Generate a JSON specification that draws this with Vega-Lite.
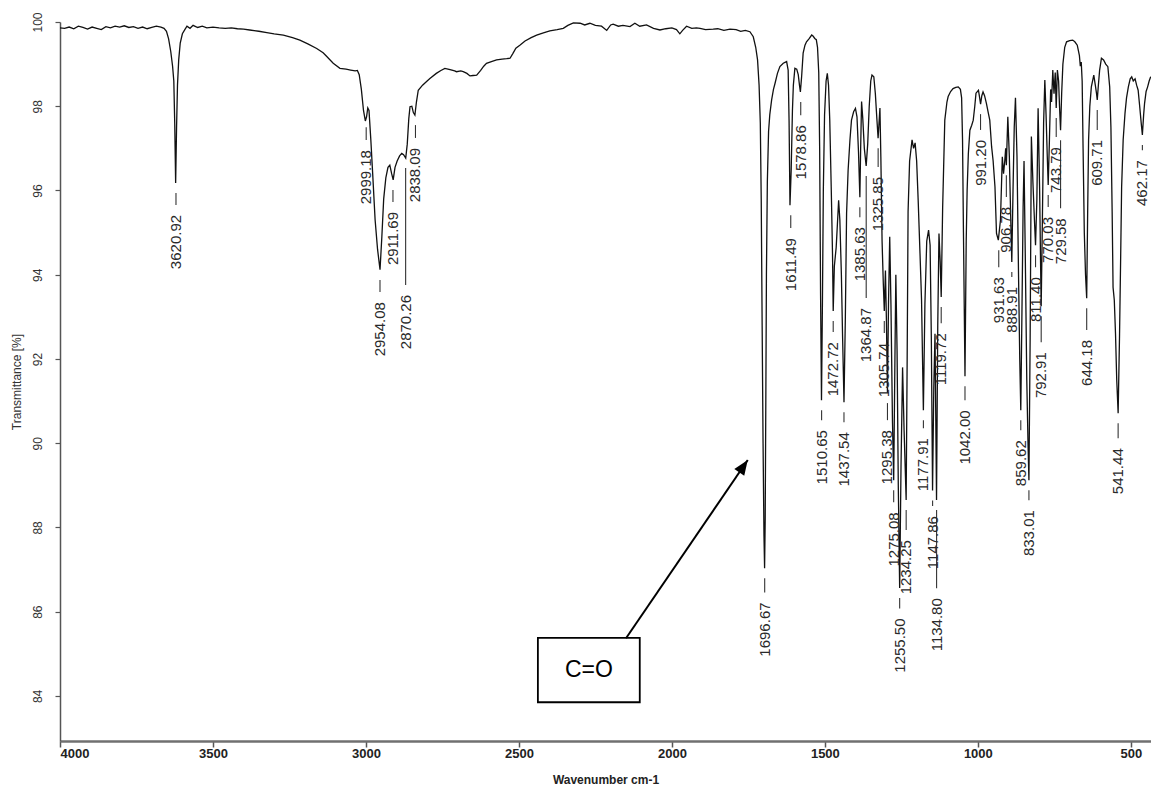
{
  "$schema": "https://vega.github.io/schema/vega-lite/v6.json",
  "width": 1091,
  "height": 719,
  "autosize": {"type": "none"},
  "padding": {"left": 60, "top": 22, "right": 0, "bottom": 48},
  "background": "white",
  "config": {"view": {"stroke": null}, "font": "Liberation Sans"},
  "datasets": {
    "spec": [
      {"wn":4000,"t":99.86},{"wn":3985,"t":99.85},{"wn":3970,"t":99.88},{"wn":3955,"t":99.84},{"wn":3940,"t":99.9},{"wn":3925,"t":99.87},{"wn":3910,"t":99.83},{"wn":3895,"t":99.88},{"wn":3880,"t":99.85},{"wn":3865,"t":99.82},{"wn":3850,"t":99.89},{"wn":3835,"t":99.86},{"wn":3820,"t":99.9},{"wn":3805,"t":99.88},{"wn":3790,"t":99.91},{"wn":3775,"t":99.87},{"wn":3760,"t":99.89},{"wn":3745,"t":99.85},{"wn":3730,"t":99.88},{"wn":3715,"t":99.84},{"wn":3700,"t":99.87},{"wn":3685,"t":99.9},{"wn":3670,"t":99.88},{"wn":3660,"t":99.85},{"wn":3652,"t":99.78},{"wn":3645,"t":99.6},{"wn":3638,"t":99.3},{"wn":3632,"t":98.95},{"wn":3628,"t":98.6},{"wn":3625,"t":97.6},{"wn":3622,"t":96.18},{"wn":3619,"t":97.5},{"wn":3616,"t":98.5},{"wn":3612,"t":99.1},{"wn":3607,"t":99.5},{"wn":3600,"t":99.72},{"wn":3592,"t":99.82},{"wn":3585,"t":99.9},{"wn":3575,"t":99.85},{"wn":3565,"t":99.92},{"wn":3550,"t":99.87},{"wn":3535,"t":99.9},{"wn":3520,"t":99.86},{"wn":3500,"t":99.88},{"wn":3480,"t":99.86},{"wn":3460,"t":99.85},{"wn":3440,"t":99.86},{"wn":3420,"t":99.84},{"wn":3400,"t":99.83},{"wn":3380,"t":99.81},{"wn":3350,"t":99.78},{"wn":3324,"t":99.75},{"wn":3300,"t":99.72},{"wn":3270,"t":99.69},{"wn":3240,"t":99.63},{"wn":3216,"t":99.57},{"wn":3190,"t":99.48},{"wn":3161,"t":99.37},{"wn":3140,"t":99.27},{"wn":3128,"t":99.18},{"wn":3107,"t":99.02},{"wn":3085,"t":98.9},{"wn":3065,"t":98.88},{"wn":3050,"t":98.86},{"wn":3035,"t":98.84},{"wn":3028,"t":98.85},{"wn":3022,"t":98.75},{"wn":3015,"t":98.4},{"wn":3008,"t":97.9},{"wn":3002,"t":97.65},{"wn":2998,"t":97.75},{"wn":2994,"t":97.96},{"wn":2990,"t":97.9},{"wn":2984,"t":97.2},{"wn":2978,"t":96.4},{"wn":2970,"t":95.3},{"wn":2962,"t":94.6},{"wn":2954,"t":94.12},{"wn":2948,"t":94.9},{"wn":2942,"t":95.8},{"wn":2935,"t":96.3},{"wn":2928,"t":96.55},{"wn":2922,"t":96.6},{"wn":2916,"t":96.4},{"wn":2911,"t":96.25},{"wn":2905,"t":96.55},{"wn":2898,"t":96.7},{"wn":2890,"t":96.82},{"wn":2883,"t":96.88},{"wn":2877,"t":96.85},{"wn":2870,"t":96.77},{"wn":2865,"t":97.1},{"wn":2860,"t":97.7},{"wn":2856,"t":97.99},{"wn":2850,"t":98.0},{"wn":2845,"t":97.85},{"wn":2840,"t":97.79},{"wn":2835,"t":98.1},{"wn":2829,"t":98.38},{"wn":2815,"t":98.5},{"wn":2800,"t":98.6},{"wn":2791,"t":98.66},{"wn":2770,"t":98.78},{"wn":2755,"t":98.85},{"wn":2742,"t":98.9},{"wn":2725,"t":98.87},{"wn":2710,"t":98.84},{"wn":2704,"t":98.82},{"wn":2690,"t":98.84},{"wn":2682,"t":98.82},{"wn":2670,"t":98.78},{"wn":2660,"t":98.72},{"wn":2650,"t":98.73},{"wn":2638,"t":98.74},{"wn":2625,"t":98.85},{"wn":2615,"t":98.95},{"wn":2606,"t":99.02},{"wn":2590,"t":99.06},{"wn":2573,"t":99.1},{"wn":2555,"t":99.12},{"wn":2540,"t":99.13},{"wn":2529,"t":99.14},{"wn":2520,"t":99.25},{"wn":2510,"t":99.38},{"wn":2497,"t":99.45},{"wn":2480,"t":99.55},{"wn":2460,"t":99.63},{"wn":2442,"t":99.69},{"wn":2420,"t":99.74},{"wn":2399,"t":99.79},{"wn":2375,"t":99.82},{"wn":2355,"t":99.85},{"wn":2340,"t":99.92},{"wn":2322,"t":99.98},{"wn":2300,"t":99.97},{"wn":2285,"t":99.93},{"wn":2268,"t":99.97},{"wn":2250,"t":99.92},{"wn":2230,"t":99.9},{"wn":2213,"t":99.8},{"wn":2200,"t":99.93},{"wn":2192,"t":99.95},{"wn":2175,"t":99.9},{"wn":2160,"t":99.92},{"wn":2137,"t":99.89},{"wn":2121,"t":99.97},{"wn":2105,"t":99.9},{"wn":2083,"t":99.93},{"wn":2060,"t":99.85},{"wn":2039,"t":99.81},{"wn":2020,"t":99.84},{"wn":2000,"t":99.86},{"wn":1985,"t":99.82},{"wn":1974,"t":99.72},{"wn":1965,"t":99.8},{"wn":1952,"t":99.9},{"wn":1935,"t":99.85},{"wn":1920,"t":99.86},{"wn":1908,"t":99.85},{"wn":1890,"t":99.82},{"wn":1865,"t":99.83},{"wn":1850,"t":99.84},{"wn":1830,"t":99.8},{"wn":1810,"t":99.83},{"wn":1790,"t":99.82},{"wn":1775,"t":99.78},{"wn":1760,"t":99.8},{"wn":1745,"t":99.77},{"wn":1734,"t":99.65},{"wn":1726,"t":99.4},{"wn":1720,"t":99.1},{"wn":1715,"t":98.5},{"wn":1711,"t":97.6},{"wn":1708,"t":95.8},{"wn":1705,"t":92.8},{"wn":1702,"t":90.0},{"wn":1699,"t":87.8},{"wn":1697,"t":87.03},{"wn":1695,"t":88.2},{"wn":1693,"t":91.0},{"wn":1691,"t":94.0},{"wn":1688,"t":96.2},{"wn":1684,"t":97.4},{"wn":1680,"t":97.8},{"wn":1674,"t":98.15},{"wn":1668,"t":98.4},{"wn":1663,"t":98.54},{"wn":1655,"t":98.78},{"wn":1647,"t":98.94},{"wn":1636,"t":99.02},{"wn":1625,"t":99.06},{"wn":1620,"t":98.86},{"wn":1617,"t":97.67},{"wn":1614,"t":95.65},{"wn":1610,"t":96.5},{"wn":1606,"t":97.9},{"wn":1603,"t":98.5},{"wn":1598,"t":98.9},{"wn":1592,"t":98.88},{"wn":1587,"t":98.75},{"wn":1583,"t":98.5},{"wn":1580,"t":98.34},{"wn":1576,"t":98.7},{"wn":1571,"t":99.26},{"wn":1565,"t":99.45},{"wn":1560,"t":99.53},{"wn":1552,"t":99.6},{"wn":1543,"t":99.69},{"wn":1538,"t":99.66},{"wn":1533,"t":99.61},{"wn":1528,"t":99.58},{"wn":1524,"t":99.4},{"wn":1520,"t":98.8},{"wn":1517,"t":97.0},{"wn":1514,"t":93.5},{"wn":1511,"t":91.02},{"wn":1508,"t":93.3},{"wn":1505,"t":96.0},{"wn":1501,"t":97.8},{"wn":1496,"t":98.6},{"wn":1492,"t":98.78},{"wn":1488,"t":98.5},{"wn":1484,"t":97.67},{"wn":1479,"t":96.0},{"wn":1475,"t":94.5},{"wn":1472.7,"t":93.14},{"wn":1469,"t":94.2},{"wn":1463,"t":94.65},{"wn":1459,"t":95.2},{"wn":1455,"t":95.77},{"wn":1451,"t":95.3},{"wn":1446,"t":94.0},{"wn":1442,"t":92.5},{"wn":1437.5,"t":90.97},{"wn":1433,"t":93.0},{"wn":1429,"t":95.46},{"wn":1424,"t":96.48},{"wn":1418,"t":97.2},{"wn":1413,"t":97.67},{"wn":1406,"t":97.87},{"wn":1400,"t":97.95},{"wn":1395,"t":97.75},{"wn":1390,"t":96.9},{"wn":1385.6,"t":95.84},{"wn":1383,"t":97.0},{"wn":1380,"t":98.11},{"wn":1376,"t":97.7},{"wn":1371,"t":97.0},{"wn":1365,"t":96.58},{"wn":1360,"t":97.1},{"wn":1355,"t":98.0},{"wn":1350,"t":98.6},{"wn":1346,"t":98.74},{"wn":1340,"t":98.7},{"wn":1335,"t":98.3},{"wn":1330,"t":97.7},{"wn":1326,"t":97.24},{"wn":1323,"t":97.6},{"wn":1320,"t":97.96},{"wn":1317,"t":96.8},{"wn":1313,"t":94.8},{"wn":1309,"t":93.8},{"wn":1305.7,"t":93.14},{"wn":1302,"t":94.1},{"wn":1299,"t":93.0},{"wn":1295.4,"t":91.19},{"wn":1292,"t":93.3},{"wn":1288,"t":94.9},{"wn":1284,"t":93.3},{"wn":1279,"t":90.5},{"wn":1275,"t":89.12},{"wn":1271,"t":92.0},{"wn":1268,"t":94.0},{"wn":1264,"t":92.2},{"wn":1260,"t":89.0},{"wn":1255.5,"t":86.56},{"wn":1251,"t":89.5},{"wn":1246,"t":91.8},{"wn":1241,"t":90.3},{"wn":1234.3,"t":88.65},{"wn":1231,"t":92.0},{"wn":1228,"t":95.5},{"wn":1223,"t":96.7},{"wn":1215,"t":97.2},{"wn":1210,"t":97.0},{"wn":1205,"t":97.13},{"wn":1200,"t":96.7},{"wn":1195,"t":95.77},{"wn":1189,"t":94.5},{"wn":1184,"t":93.4},{"wn":1178,"t":90.78},{"wn":1173,"t":93.3},{"wn":1167,"t":94.8},{"wn":1161,"t":95.06},{"wn":1156,"t":94.7},{"wn":1152,"t":92.5},{"wn":1148,"t":88.88},{"wn":1144,"t":91.3},{"wn":1140,"t":92.6},{"wn":1135,"t":88.65},{"wn":1131,"t":92.8},{"wn":1127,"t":94.98},{"wn":1123,"t":94.3},{"wn":1119.7,"t":93.47},{"wn":1115,"t":95.6},{"wn":1108,"t":97.67},{"wn":1101,"t":98.1},{"wn":1097,"t":98.23},{"wn":1089,"t":98.35},{"wn":1081,"t":98.42},{"wn":1072,"t":98.45},{"wn":1064,"t":98.46},{"wn":1057,"t":98.4},{"wn":1053,"t":98.2},{"wn":1050,"t":97.2},{"wn":1047,"t":95.0},{"wn":1042,"t":91.59},{"wn":1038,"t":94.8},{"wn":1035,"t":96.0},{"wn":1031,"t":96.88},{"wn":1026,"t":97.43},{"wn":1020,"t":97.55},{"wn":1015,"t":97.67},{"wn":1010,"t":98.0},{"wn":1006,"t":98.31},{"wn":998,"t":98.38},{"wn":994,"t":98.2},{"wn":991,"t":98.05},{"wn":987,"t":98.25},{"wn":983,"t":98.34},{"wn":978,"t":98.25},{"wn":972,"t":98.07},{"wn":966,"t":97.85},{"wn":961,"t":97.67},{"wn":955,"t":97.04},{"wn":950,"t":96.7},{"wn":944,"t":96.09},{"wn":939,"t":94.98},{"wn":933,"t":94.82},{"wn":926,"t":95.3},{"wn":920,"t":96.8},{"wn":916,"t":96.4},{"wn":912,"t":96.7},{"wn":909,"t":97.0},{"wn":906.8,"t":96.6},{"wn":902,"t":97.75},{"wn":897,"t":96.8},{"wn":893,"t":95.5},{"wn":889,"t":94.3},{"wn":885,"t":96.0},{"wn":881,"t":97.5},{"wn":877,"t":98.2},{"wn":872,"t":96.8},{"wn":867,"t":94.0},{"wn":863,"t":92.0},{"wn":859.6,"t":90.78},{"wn":856,"t":93.0},{"wn":852,"t":95.6},{"wn":849,"t":96.7},{"wn":845,"t":94.5},{"wn":840,"t":91.5},{"wn":836,"t":90.0},{"wn":833,"t":89.12},{"wn":829,"t":92.5},{"wn":825,"t":97.28},{"wn":820,"t":96.2},{"wn":815,"t":95.3},{"wn":811.4,"t":94.7},{"wn":807,"t":95.8},{"wn":803,"t":97.95},{"wn":798,"t":96.0},{"wn":795,"t":94.3},{"wn":792.9,"t":93.25},{"wn":789,"t":95.3},{"wn":785,"t":97.6},{"wn":781,"t":98.62},{"wn":777,"t":97.8},{"wn":773,"t":96.8},{"wn":770,"t":96.13},{"wn":766,"t":97.2},{"wn":762,"t":98.4},{"wn":759,"t":98.1},{"wn":755,"t":98.86},{"wn":751,"t":98.3},{"wn":747,"t":98.8},{"wn":743.8,"t":97.96},{"wn":740,"t":98.86},{"wn":736,"t":98.6},{"wn":733,"t":98.0},{"wn":729.6,"t":97.43},{"wn":726,"t":98.3},{"wn":722,"t":99.0},{"wn":716,"t":99.4},{"wn":710,"t":99.53},{"wn":700,"t":99.56},{"wn":690,"t":99.57},{"wn":683,"t":99.53},{"wn":675,"t":99.45},{"wn":668,"t":99.2},{"wn":665,"t":98.95},{"wn":662,"t":99.05},{"wn":659,"t":98.6},{"wn":656,"t":97.0},{"wn":652,"t":95.0},{"wn":648,"t":94.0},{"wn":644.2,"t":93.44},{"wn":641,"t":95.5},{"wn":638,"t":97.2},{"wn":634,"t":98.0},{"wn":629,"t":98.46},{"wn":621,"t":98.74},{"wn":616,"t":98.5},{"wn":612,"t":98.3},{"wn":609.7,"t":98.15},{"wn":606,"t":98.5},{"wn":602,"t":98.85},{"wn":596,"t":99.14},{"wn":589,"t":99.1},{"wn":582,"t":99.0},{"wn":575,"t":98.94},{"wn":569,"t":98.46},{"wn":565,"t":97.5},{"wn":561,"t":95.5},{"wn":558,"t":93.7},{"wn":554,"t":93.4},{"wn":550,"t":92.6},{"wn":546,"t":91.5},{"wn":541.4,"t":90.71},{"wn":537,"t":92.5},{"wn":533,"t":94.5},{"wn":530,"t":96.09},{"wn":525,"t":97.2},{"wn":519,"t":97.83},{"wn":514,"t":98.2},{"wn":508,"t":98.46},{"wn":502,"t":98.65},{"wn":497,"t":98.7},{"wn":492,"t":98.6},{"wn":486,"t":98.65},{"wn":481,"t":98.5},{"wn":476,"t":98.38},{"wn":471,"t":98.0},{"wn":466,"t":97.6},{"wn":462.2,"t":97.32},{"wn":458,"t":97.8},{"wn":455,"t":98.07},{"wn":450,"t":98.35},{"wn":445,"t":98.46},{"wn":440,"t":98.6},{"wn":435,"t":98.7}
    ],
    "peaks": [
      {"wn":3620.92,"label":"3620.92","tip":96.18,"lab":95.42},
      {"wn":2999.18,"label":"2999.18","tip":97.74,"lab":96.96},
      {"wn":2954.08,"label":"2954.08","tip":94.11,"lab":93.35},
      {"wn":2911.69,"label":"2911.69","tip":96.25,"lab":95.49},
      {"wn":2870.26,"label":"2870.26","tip":96.77,"lab":93.52},
      {"wn":2838.09,"label":"2838.09","tip":97.79,"lab":97.01},
      {"wn":1696.67,"label":"1696.67","tip":87.03,"lab":86.22},
      {"wn":1611.49,"label":"1611.49","tip":95.65,"lab":94.87},
      {"wn":1578.86,"label":"1578.86","tip":98.34,"lab":97.55},
      {"wn":1510.65,"label":"1510.65","tip":91.02,"lab":90.31},
      {"wn":1472.72,"label":"1472.72","tip":93.14,"lab":92.4},
      {"wn":1437.54,"label":"1437.54","tip":90.97,"lab":90.26},
      {"wn":1385.63,"label":"1385.63","tip":95.84,"lab":95.13},
      {"wn":1364.87,"label":"1364.87","tip":96.58,"lab":93.21},
      {"wn":1325.85,"label":"1325.85","tip":97.24,"lab":96.32},
      {"wn":1305.74,"label":"1305.74","tip":93.14,"lab":92.38},
      {"wn":1295.38,"label":"1295.38","tip":91.19,"lab":90.31},
      {"wn":1275.08,"label":"1275.08","tip":89.12,"lab":88.36},
      {"wn":1255.5,"label":"1255.50","tip":86.56,"lab":85.84},
      {"wn":1234.25,"label":"1234.25","tip":88.65,"lab":87.7},
      {"wn":1177.91,"label":"1177.91","tip":90.78,"lab":90.12},
      {"wn":1147.86,"label":"1147.86","tip":88.88,"lab":88.27},
      {"wn":1134.8,"label":"1134.80","tip":88.65,"lab":86.32},
      {"wn":1119.72,"label":"1119.72","tip":93.47,"lab":92.61},
      {"wn":1042.0,"label":"1042.00","tip":91.59,"lab":90.78},
      {"wn":991.2,"label":"991.20","tip":98.05,"lab":97.2},
      {"wn":931.63,"label":"931.63","tip":94.82,"lab":93.94},
      {"wn":906.78,"label":"906.78","tip":96.6,"lab":95.61},
      {"wn":888.91,"label":"888.91","tip":94.3,"lab":93.71},
      {"wn":859.62,"label":"859.62","tip":90.78,"lab":90.07},
      {"wn":833.01,"label":"833.01","tip":89.12,"lab":88.41},
      {"wn":811.4,"label":"811.40","tip":94.7,"lab":93.94},
      {"wn":792.91,"label":"792.91","tip":93.25,"lab":92.16},
      {"wn":770.03,"label":"770.03","tip":96.13,"lab":95.37},
      {"wn":743.79,"label":"743.79","tip":97.96,"lab":97.03},
      {"wn":729.58,"label":"729.58","tip":97.43,"lab":95.34},
      {"wn":644.18,"label":"644.18","tip":93.44,"lab":92.45},
      {"wn":609.71,"label":"609.71","tip":98.15,"lab":97.2},
      {"wn":541.44,"label":"541.44","tip":90.71,"lab":89.88},
      {"wn":462.17,"label":"462.17","tip":97.32,"lab":96.72}
    ],
    "note": [
      {"label":"C=O","bx1":2438,"bx2":2105,"by1":85.38,"by2":83.85,"cx":2271,"cy":84.61,"ax1":2150,"ay1":85.37,"ax2":1752,"ay2":89.6}
    ]
  },
  "encoding": {},
  "layer": [
    {
      "data": {"name": "spec"},
      "mark": {"type": "line", "color": "#111111", "strokeWidth": 1.3, "clip": true},
      "encoding": {
        "x": {
          "field": "wn", "type": "quantitative",
          "scale": {"domain": [4000, 434], "nice": false, "zero": false},
          "axis": {
            "values": [4000, 3500, 3000, 2500, 2000, 1500, 1000, 500],
            "format": "d",
            "title": "Wavenumber cm-1",
            "titleFont": "Liberation Sans", "titleFontSize": 12, "titleFontWeight": "bold", "titleColor": "#222",
            "titlePadding": 14,
            "labelFont": "Liberation Sans", "labelFontSize": 13, "labelFontWeight": "bold", "labelColor": "#222",
            "labelPadding": 0,
            "domainColor": "#707070", "domainWidth": 2.5,
            "tickColor": "#555", "tickSize": 6, "tickWidth": 1.5,
            "grid": false
          }
        },
        "y": {
          "field": "t", "type": "quantitative",
          "scale": {"domain": [82.93, 100], "nice": false, "zero": false},
          "axis": {
            "values": [84, 86, 88, 90, 92, 94, 96, 98, 100],
            "format": "d",
            "title": "Transmittance [%]",
            "titleFont": "Liberation Sans", "titleFontSize": 12, "titleFontWeight": "normal", "titleColor": "#333",
            "titlePadding": 8,
            "labelFont": "Liberation Sans", "labelFontSize": 12, "labelColor": "#333",
            "labelAngle": 270, "labelPadding": 11,
            "domainColor": "#555", "domainWidth": 1.5,
            "tickColor": "#555", "tickSize": 5, "tickWidth": 1.2,
            "grid": false
          }
        }
      }
    },
    {
      "mark": {"type": "rule", "color": "#8a8a8a", "strokeWidth": 2},
      "encoding": {"y": {"datum": 100, "type": "quantitative"}}
    },
    {
      "data": {"name": "peaks"},
      "mark": {"type": "rule", "color": "#333", "strokeWidth": 1.1, "yOffset": 10, "y2Offset": -10},
      "encoding": {
        "x": {"field": "wn", "type": "quantitative"},
        "y": {"field": "tip", "type": "quantitative"},
        "y2": {"field": "lab"}
      }
    },
    {
      "data": {"name": "peaks"},
      "mark": {"type": "text", "angle": 270, "align": "right", "baseline": "middle", "font": "Liberation Sans", "fontSize": 15, "color": "#2a2a2a"},
      "encoding": {
        "x": {"field": "wn", "type": "quantitative"},
        "y": {"field": "lab", "type": "quantitative"},
        "text": {"field": "label"}
      }
    },
    {
      "data": {"name": "note"},
      "mark": {"type": "rect", "fill": "white", "stroke": "black", "strokeWidth": 1.8},
      "encoding": {
        "x": {"field": "bx1", "type": "quantitative"},
        "x2": {"field": "bx2"},
        "y": {"field": "by1", "type": "quantitative"},
        "y2": {"field": "by2"}
      }
    },
    {
      "data": {"name": "note"},
      "mark": {"type": "text", "font": "Liberation Sans", "fontSize": 23, "color": "black", "align": "center", "baseline": "middle"},
      "encoding": {
        "x": {"field": "cx", "type": "quantitative"},
        "y": {"field": "cy", "type": "quantitative"},
        "text": {"field": "label"}
      }
    },
    {
      "data": {"name": "note"},
      "mark": {"type": "rule", "color": "black", "strokeWidth": 2},
      "encoding": {
        "x": {"field": "ax1", "type": "quantitative"},
        "x2": {"field": "ax2"},
        "y": {"field": "ay1", "type": "quantitative"},
        "y2": {"field": "ay2"}
      }
    },
    {
      "data": {"name": "note"},
      "mark": {"type": "point", "shape": "M0,0L0.8,2L-0.8,2Z", "size": 225, "filled": true, "color": "black", "opacity": 1, "angle": 34.4},
      "encoding": {
        "x": {"field": "ax2", "type": "quantitative"},
        "y": {"field": "ay2", "type": "quantitative"}
      }
    }
  ]
}
